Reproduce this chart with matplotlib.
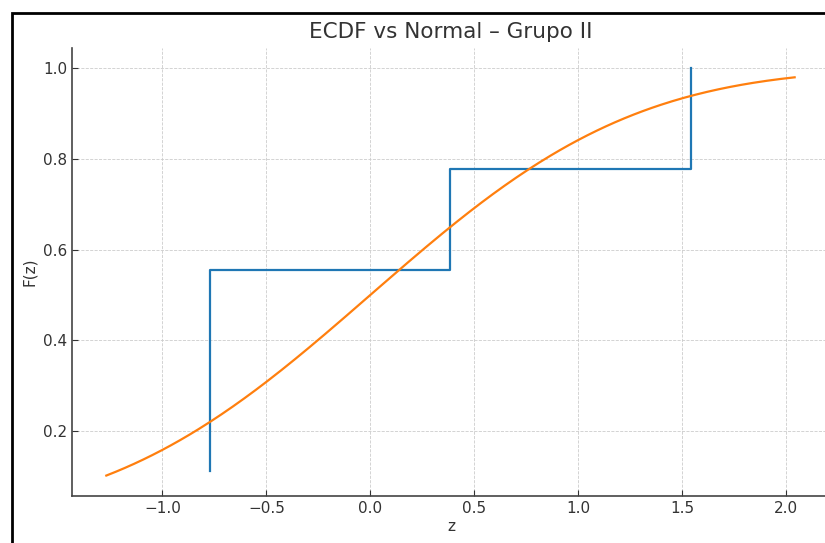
import math
import numpy as np
import matplotlib
matplotlib.use('Agg')
import matplotlib.pyplot as plt
from matplotlib.patches import Rectangle

# standardized sample values (grupo II), read from the steps
z_vals = [-0.77, -0.77, -0.77, -0.77, -0.77, 0.385, 0.385, 1.54, 1.54]
# range of the reference normal curve
z_lo, z_hi = -1.27, 2.04
x_ticks = [-1.0, -0.5, 0.0, 0.5, 1.0, 1.5, 2.0]
y_ticks = [0.2, 0.4, 0.6, 0.8, 1.0]

txt = '#333333'
plt.rcParams['font.family'] = 'DejaVu Sans'
plt.rcParams['text.color'] = txt
plt.rcParams['axes.labelcolor'] = txt
plt.rcParams['xtick.color'] = txt
plt.rcParams['ytick.color'] = txt

fig = plt.figure(figsize=(8.25, 5.43), dpi=100)
ax = fig.add_axes([72 / 825, 1 - 496 / 543, (830 - 72) / 825, (496 - 47.5) / 543])

z = np.sort(np.array(z_vals))
y = np.arange(1, len(z) + 1) / len(z)
ax.plot(z, y, drawstyle='steps-post', color='#1f77b4', lw=1.6)

xs = np.linspace(z_lo, z_hi, 300)
cdf = [0.5 * (1 + math.erf(v / math.sqrt(2))) for v in xs]
ax.plot(xs, cdf, color='#ff7f0e', lw=1.6)

ax.set_xlim(-1.435, 2.21)
ax.set_ylim(0.057, 1.045)
ax.set_xticks(x_ticks)
ax.set_yticks(y_ticks)
ax.tick_params(direction='in', labelsize=11, length=4)
ax.grid(True, ls='--', lw=0.6, color='#cccccc')
ax.spines['top'].set_visible(False)
ax.spines['right'].set_visible(False)
for s in ['left', 'bottom']:
    ax.spines[s].set_color('#444444')
    ax.spines[s].set_linewidth(1.2)

ax.set_title('ECDF vs Normal – Grupo II', fontsize=15.5, pad=7)
ax.set_xlabel('z', fontsize=11, labelpad=2)
ax.set_ylabel('F(z)', fontsize=11)

# screenshot frame
fig.patches.append(Rectangle((12 / 825, -0.2), 1.2, 1.2 - 13 / 543,
                             transform=fig.transFigure, fill=False,
                             edgecolor='black', lw=2, clip_on=False))

fig.savefig('out.png', dpi=100)
